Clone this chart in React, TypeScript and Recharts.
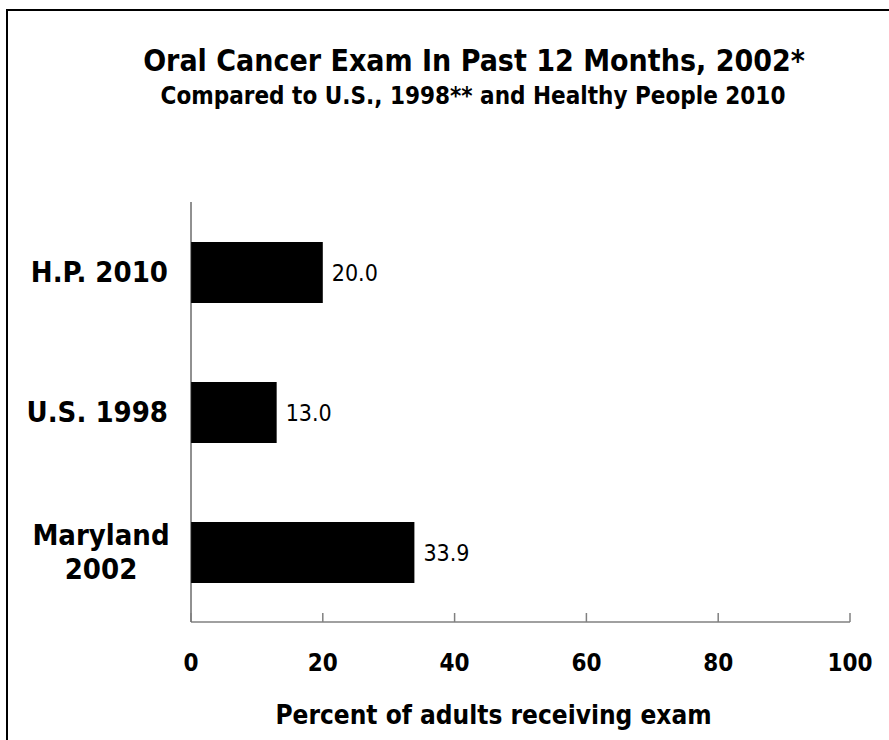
import { BarChart, Bar, XAxis, YAxis, LabelList } from "recharts";

// values
const categories = ["H.P. 2010", "U.S. 1998", "Maryland\n2002"];
const percents = [20.0, 13.0, 33.9];
const xTicks = [0, 20, 40, 60, 80, 100];

const TITLE = "Oral Cancer Exam In Past 12 Months, 2002*";
const SUBTITLE = "Compared to U.S., 1998** and Healthy People 2010";
const X_TITLE = "Percent of adults receiving exam";

const FONT = "'DejaVu Sans Condensed', 'DejaVu Sans', Verdana, sans-serif";

const data = categories.map((name, i) => ({ name, value: percents[i] }));

function CategoryTick({ x, y, payload }: any) {
  const lines = String(payload.value).split("\n");
  const right = x - 23;
  if (lines.length === 1) {
    return (
      <text x={right} y={y + 10} textAnchor="end" fontFamily={FONT} fontWeight="bold" fontSize={29} fill="#000">
        {lines[0]}
      </text>
    );
  }
  const cx = right - 67;
  return (
    <text textAnchor="middle" fontFamily={FONT} fontWeight="bold" fontSize={29} fill="#000">
      {lines.map((ln, i) => (
        <tspan key={i} x={cx} y={y + 10 + (i - (lines.length - 1) / 2) * 34}>
          {ln}
        </tspan>
      ))}
    </text>
  );
}

function ValueTick({ x, y, payload }: any) {
  return (
    <g>
      <line x1={x} y1={y} x2={x} y2={y - 9} stroke="#808080" strokeWidth={1.5} />
      <text x={x} y={y + 49} textAnchor="middle" fontFamily={FONT} fontWeight="bold" fontSize={24} fill="#000">
        {payload.value}
      </text>
    </g>
  );
}

function AxisTitle({ viewBox }: any) {
  const cx = viewBox.x + viewBox.width / 2 - 27;
  return (
    <text x={cx} y={724} textAnchor="middle" fontFamily={FONT} fontWeight="bold" fontSize={26} fill="#000">
      {X_TITLE}
    </text>
  );
}

export default function App() {
  return (
    <div style={{ position: "absolute", left: 0, top: 0, width: 889, height: 740, overflow: "hidden", background: "#fff" }}>
      <div
        style={{
          position: "absolute",
          left: 6,
          top: 9,
          width: 1000,
          height: 1000,
          borderTop: "2px solid #000",
          borderLeft: "2px solid #000",
        }}
      />
      <div style={{ position: "absolute", left: 0, top: 0 }}>
        <BarChart
          width={889}
          height={740}
          data={data}
          layout="vertical"
          margin={{ top: 202, right: 39, bottom: 0, left: 11 }}
          barCategoryGap="28%"
        >
          <XAxis
            type="number"
            domain={[0, 100]}
            ticks={xTicks}
            interval={0}
            stroke="#808080"
            strokeWidth={1.5}
            tickLine={false}
            tickSize={0}
            tickMargin={0}
            tick={<ValueTick />}
            height={118}
            label={<AxisTitle />}
          />
          <YAxis
            type="category"
            dataKey="name"
            width={180}
            stroke="#222"
            tickLine={false}
            tickSize={0}
            tickMargin={0}
            tick={<CategoryTick />}
          />
          <Bar dataKey="value" fill="#000" barSize={61} isAnimationActive={false}>
            <LabelList
              dataKey="value"
              position="right"
              offset={9}
              formatter={(v: any) => Number(v).toFixed(1)}
              fontFamily={FONT}
              fontSize={23}
              fill="#000"
            />
          </Bar>
        </BarChart>
      </div>
      <svg width={889} height={740} style={{ position: "absolute", left: 0, top: 0, pointerEvents: "none" }}>
        <text x={474} y={71} textAnchor="middle" fontFamily={FONT} fontWeight="bold" fontSize={30} fill="#000">
          {TITLE}
        </text>
        <text x={473} y={104} textAnchor="middle" fontFamily={FONT} fontWeight="bold" fontSize={24} fill="#000">
          {SUBTITLE}
        </text>
      </svg>
    </div>
  );
}
